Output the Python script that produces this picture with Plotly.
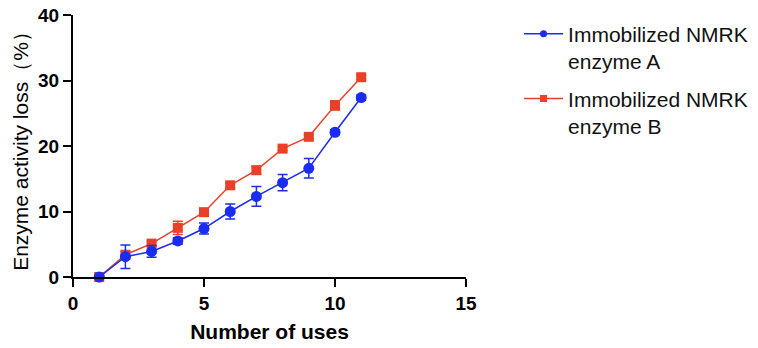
import plotly.graph_objects as go

uses = [1, 2, 3, 4, 5, 6, 7, 8, 9, 10, 11]
loss_a = [0, 3.1, 3.9, 5.5, 7.4, 10.0, 12.3, 14.4, 16.6, 22.1, 27.4]
err_a = [0.2, 1.8, 0.9, 0.5, 0.85, 1.15, 1.5, 1.25, 1.5, 0.4, 0.4]
loss_b = [0, 3.4, 5.1, 7.5, 9.9, 14.0, 16.3, 19.6, 21.4, 26.2, 30.5]
err_b = [0.2, 0.5, 0.4, 1.0, 0.3, 0.4, 0.6, 0.3, 0.3, 0.7, 0.3]
name_a = "Immobilized NMRK<br>enzyme A"
name_b = "Immobilized NMRK<br>enzyme B"
x_ticks = [0, 5, 10, 15]
x_minor = [1, 2, 3, 4, 6, 7, 8, 9, 11, 12, 13, 14]
y_ticks = [0, 10, 20, 30, 40]

BLUE = "#1b2cf2"
RED = "#ea4029"
FONT = "Arial, Liberation Sans, Helvetica, sans-serif"

X_RANGE = [0, 15]
Y_RANGE = [0, 40]
ML, MR, MT, MB = 73, 292, 15, 71
W, H = 758, 348
px_per_x = (W - ML - MR) / (X_RANGE[1] - X_RANGE[0])
px_per_y = (H - MT - MB) / (Y_RANGE[1] - Y_RANGE[0])

fig = go.Figure()
fig.add_trace(go.Scatter(
    x=uses, y=loss_b, name=name_b, mode="lines+markers", showlegend=False,
    line=dict(color=RED, width=1.5),
    marker=dict(symbol="square", size=10, color=RED),
    error_y=dict(type="data", array=err_b, color=RED, thickness=1.5, width=5),
    cliponaxis=False,
))
fig.add_trace(go.Scatter(
    x=uses, y=loss_a, name=name_a, mode="lines+markers", showlegend=False,
    line=dict(color=BLUE, width=1.5),
    marker=dict(symbol="circle", size=11, color=BLUE),
    error_y=dict(type="data", array=err_a, color=BLUE, thickness=1.5, width=5),
    cliponaxis=False,
))
# legend entries with smaller symbols, as in the reference
fig.add_trace(go.Scatter(
    x=[None], y=[None], name=name_a, mode="lines+markers", legendrank=1, legendgroup="a",
    line=dict(color=BLUE, width=1.5), marker=dict(symbol="circle", size=7, color=BLUE),
))
fig.add_trace(go.Scatter(
    x=[None], y=[None], name=name_b, mode="lines+markers", legendrank=2, legendgroup="b",
    line=dict(color=RED, width=1.5), marker=dict(symbol="square", size=7, color=RED),
))

# axis tick marks drawn as one-sided error bars hanging off the axes
def tick_trace(xs, ys, err_x=None, err_y=None):
    return go.Scatter(
        x=xs, y=ys, mode="markers", showlegend=False, hoverinfo="skip",
        marker=dict(size=1, opacity=0),
        error_x=err_x, error_y=err_y, cliponaxis=False,
    )

fig.add_trace(tick_trace(
    x_ticks, [Y_RANGE[0]] * len(x_ticks),
    err_y=dict(type="data", symmetric=False, array=[0] * len(x_ticks),
               arrayminus=[8 / px_per_y] * len(x_ticks), color="black", thickness=2, width=0)))
fig.add_trace(tick_trace(
    x_minor, [Y_RANGE[0]] * len(x_minor),
    err_y=dict(type="data", symmetric=False, array=[0] * len(x_minor),
               arrayminus=[5 / px_per_y] * len(x_minor), color="black", thickness=2, width=0)))
fig.add_trace(tick_trace(
    [X_RANGE[0]] * len(y_ticks), y_ticks,
    err_x=dict(type="data", symmetric=False, array=[0] * len(y_ticks),
               arrayminus=[8 / px_per_x] * len(y_ticks), color="black", thickness=2, width=0)))

fig.update_layout(
    template="simple_white",
    width=W, height=H,
    margin=dict(l=ML, r=MR, t=MT, b=MB, autoexpand=False),
    paper_bgcolor="white", plot_bgcolor="white",
    font=dict(family=FONT, color="black"),
    showlegend=True,
    legend=dict(
        x=1.135, y=1.005, xanchor="left", yanchor="top", valign="top",
        font=dict(size=21, family=FONT, color="#111"),
        itemsizing="trace", itemwidth=39, tracegroupgap=7,
        bgcolor="rgba(0,0,0,0)",
    ),
    xaxis=dict(
        range=X_RANGE, tickmode="array", tickvals=x_ticks,
        ticktext=[f"<b>{v}</b>" for v in x_ticks],
        showgrid=False, zeroline=False,
        showline=True, linecolor="black", linewidth=2, automargin=False,
        ticks="outside", ticklen=8, tickwidth=2, tickcolor="black",
        tickfont=dict(size=19, family=FONT),
        title=dict(text="<b>Number of uses</b>", font=dict(size=21, family=FONT), standoff=12),
    ),
    yaxis=dict(
        range=Y_RANGE, tickmode="array", tickvals=y_ticks,
        ticktext=[f"<b>{v}</b>" for v in y_ticks],
        showgrid=False, zeroline=False,
        showline=True, linecolor="black", linewidth=2, automargin=False,
        ticks="outside", ticklen=8, tickwidth=2, tickcolor="black",
        tickfont=dict(size=19, family=FONT),
        title=dict(text="Enzyme activity loss（%）", font=dict(size=21, family=FONT), standoff=4),
    ),
)

fig.write_html("out.html")
